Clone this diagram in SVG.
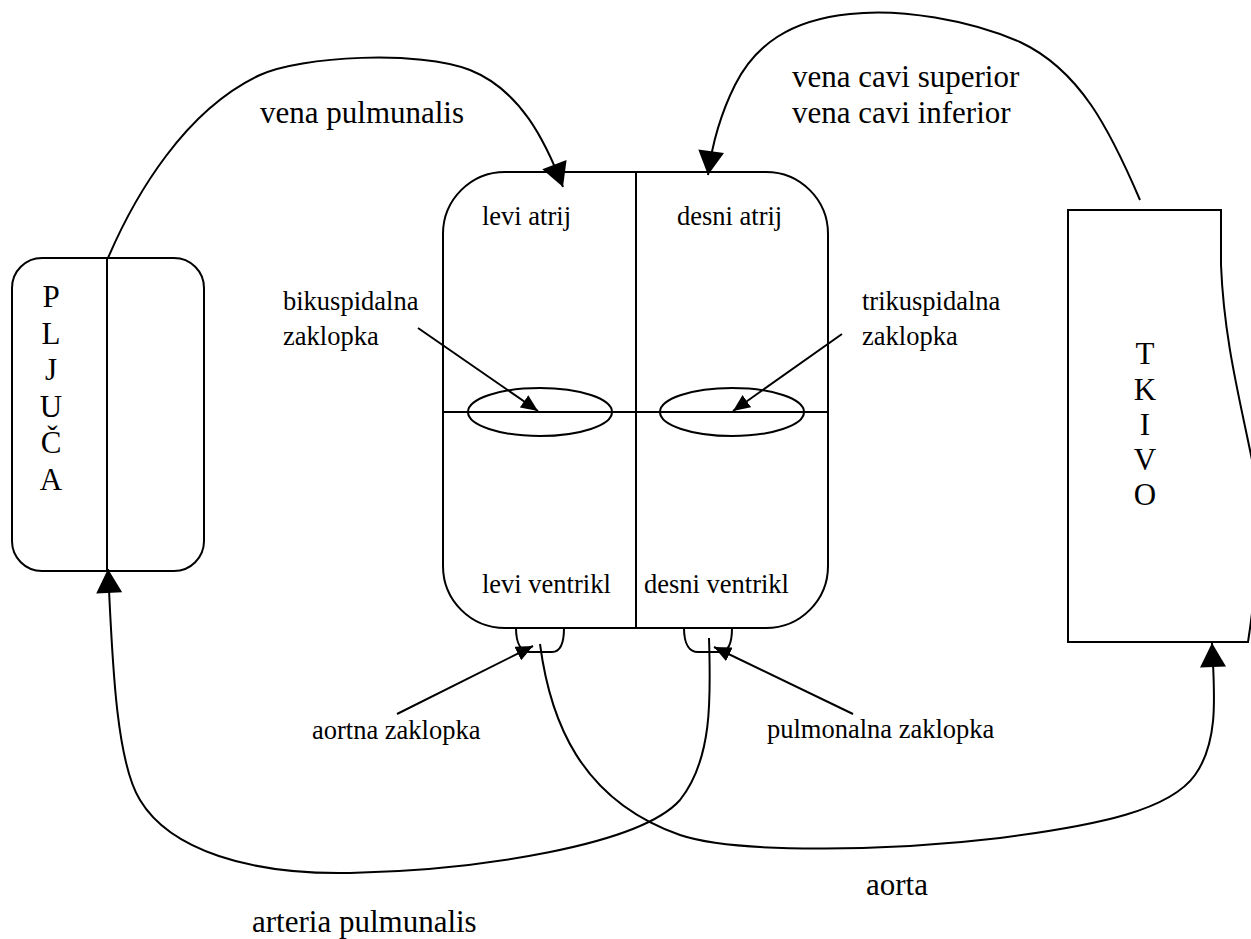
<svg xmlns="http://www.w3.org/2000/svg" width="1251" height="939" viewBox="0 0 1251 939">
<style>
  .ln { fill: none; stroke: #000; stroke-width: 2; }
  .box { fill: #fff; stroke: #000; stroke-width: 2; }
  text { font-family: "Liberation Serif", "Times New Roman", serif; fill: #000; }
  .big { font-size: 31px; }
  .sm { font-size: 26.5px; }
  .mid { text-anchor: middle; }
</style>
<defs>
  <marker id="bigArrow" markerUnits="userSpaceOnUse" markerWidth="26" markerHeight="26" viewBox="0 0 24 26" refX="24" refY="13" orient="auto">
    <path d="M0,0 L24,13 L0,26 z" fill="#000"/>
  </marker>
  <marker id="smArrow" markerUnits="userSpaceOnUse" markerWidth="17" markerHeight="15" viewBox="0 0 17 15" refX="17" refY="7.5" orient="auto">
    <path d="M0,0 L17,7.5 L0,15 z" fill="#000"/>
  </marker>
</defs>
<rect width="1251" height="939" fill="#fff"/>

<g id="pluca">
  <rect class="box" x="12" y="258" width="192" height="313" rx="30" ry="30"/>
  <line class="ln" x1="107" y1="258" x2="107" y2="571"/>
  <text class="big mid" x="51" y="307">P</text>
  <text class="big mid" x="51" y="344">L</text>
  <text class="big mid" x="51" y="380">J</text>
  <text class="big mid" x="51" y="417">U</text>
  <text class="big mid" x="51" y="453">Č</text>
  <text class="big mid" x="51" y="490">A</text>
</g>

<g id="srce">
  <rect class="box" x="443" y="172" width="385" height="456" rx="62" ry="62"/>
  <line class="ln" x1="636" y1="172" x2="636" y2="628"/>
  <line class="ln" x1="443" y1="412" x2="828" y2="412"/>
  <text class="sm" x="482" y="225">levi atrij</text>
  <text class="sm" x="677" y="225">desni atrij</text>
  <text class="sm" x="482" y="593">levi ventrikl</text>
  <text class="sm" x="644" y="593">desni ventrikl</text>
</g>

<g id="bikuspidalna">
  <ellipse class="ln" cx="540" cy="412" rx="72" ry="24"/>
  <text class="sm" x="283" y="310">bikuspidalna</text>
  <text class="sm" x="283" y="345">zaklopka</text>
</g>

<g id="trikuspidalna">
  <ellipse class="ln" cx="732" cy="412" rx="72" ry="24"/>
  <text class="sm" x="862" y="310">trikuspidalna</text>
  <text class="sm" x="862" y="345">zaklopka</text>
</g>

<g id="aortna">
  <path class="ln" d="M516,628 C516,645 522,652 530,652 L552,652 C560,652 564,645 564,628"/>
  <text class="sm" x="312" y="739">aortna zaklopka</text>
</g>

<g id="pulmonalna">
  <path class="ln" d="M684,628 C684,645 690,652 698,652 L720,652 C728,652 732,645 732,628"/>
  <text class="sm" x="767" y="738">pulmonalna zaklopka</text>
</g>

<g id="tkivo">
  <path class="box" d="M1068,210 L1221,210 L1221,265 C1224,340 1240,400 1252,460 C1262,520 1256,590 1248,642 L1068,642 Z"/>
  <text class="big mid" x="1145" y="364">T</text>
  <text class="big mid" x="1145" y="400">K</text>
  <text class="big mid" x="1145" y="435">I</text>
  <text class="big mid" x="1145" y="470">V</text>
  <text class="big mid" x="1145" y="505">O</text>
</g>

<g id="connectors">
  <path class="ln" marker-end="url(#bigArrow)" d="M108,258 C135,195 185,110 260,75 C300,56 420,50 470,70 C520,90 545,140 563,187"/>
  <path class="ln" marker-end="url(#bigArrow)" d="M1140,200 C1110,130 1080,70 1020,42 C970,20 900,8 850,14 C790,20 755,45 735,85 C720,115 712,145 708,175"/>
  <path class="ln" marker-end="url(#bigArrow)" d="M709,638 C711,700 712,760 680,800 C640,845 480,870 350,873 C250,875 170,850 140,800 C115,760 112,650 108,569"/>
  <path class="ln" marker-end="url(#bigArrow)" d="M540,644 C550,720 580,800 680,835 C740,855 900,850 1000,838 C1100,825 1170,810 1195,775 C1220,740 1214,690 1212,643"/>
  <path class="ln" marker-end="url(#smArrow)" d="M418,328 L538,411"/>
  <path class="ln" marker-end="url(#smArrow)" d="M842,334 L733,411"/>
  <path class="ln" marker-end="url(#smArrow)" d="M397,714 L533,646"/>
  <path class="ln" marker-end="url(#smArrow)" d="M853,714 L714,647"/>
</g>

<g id="labels">
  <text class="big" x="260" y="123">vena pulmunalis</text>
  <text class="big" x="792" y="87">vena cavi superior</text>
  <text class="big" x="792" y="123">vena cavi inferior</text>
  <text class="big" x="866" y="895">aorta</text>
  <text class="big" x="252" y="932">arteria pulmunalis</text>
</g>
</svg>
